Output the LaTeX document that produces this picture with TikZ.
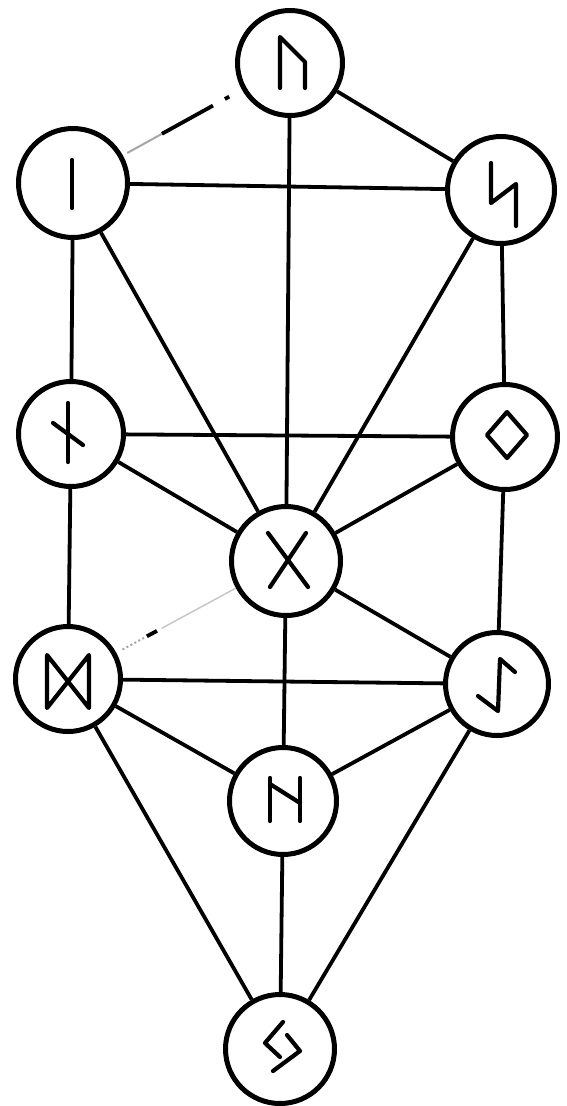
\documentclass[tikz,border=0pt]{standalone}
\usetikzlibrary{calc}
\begin{document}
\begin{tikzpicture}[x=1pt,y=-1pt,
  rune/.style={circle,draw,line width=5pt,fill=white,minimum size=#1,inner sep=0pt},
  link/.style={line width=3.8pt},
  faint/.style={line width=2pt,draw=black!35},
  glyph/.style={line width=4.2pt,line cap=round,line join=round}]
\useasboundingbox (0,0) rectangle (566,1106);
% circles
\node[rune=105pt] (t)  at (290,63)  {};
\node[rune=109pt] (lu) at (73,183)  {};
\node[rune=107pt] (ru) at (501,190) {};
\node[rune=105pt] (lm) at (71,434)  {};
\node[rune=105pt] (rm) at (505,437) {};
\node[rune=109pt] (c)  at (286,561) {};
\node[rune=105pt] (ll) at (68,679)  {};
\node[rune=103pt] (rl) at (497,684) {};
\node[rune=107pt] (bm) at (283,801) {};
\node[rune=109pt] (b)  at (280,1049) {};
% connectors
\draw[link] (t) -- (ru);
\draw[link] (t) -- (c);
\draw[link] (lu) -- (ru);
\draw[link] (lu) -- (lm);
\draw[link] (lu) -- (c);
\draw[link] (ru) -- (rm);
\draw[link] (ru) -- (c);
\draw[link] (lm) -- (rm);
\draw[link] (lm) -- (c);
\draw[link] (rm) -- (c);
\draw[link] (lm) -- (ll);
\draw[link] (rm) -- (rl);
\draw[link] (c) -- (rl);
\draw[link] (c) -- (bm);
\draw[link] (ll) -- (rl);
\draw[link] (ll) -- (bm);
\draw[link] (rl) -- (bm);
\draw[link] (ll) -- (b);
\draw[link] (rl) -- (b);
\draw[link] (bm) -- (b);
% faded connector top - left upper
\draw[faint] ($(lu)!0.25!(t)$) -- ($(lu)!0.41!(t)$);
\draw[link] ($(lu)!0.41!(t)$) -- ($(lu)!0.645!(t)$);
\draw[link] ($(lu)!0.70!(t)$) -- ($(lu)!0.72!(t)$);
% faded connector centre - left lower
\draw[faint,dash pattern=on 2pt off 2.5pt] ($(ll)!0.25!(c)$) -- ($(ll)!0.35!(c)$);
\draw[link] ($(ll)!0.362!(c)$) -- ($(ll)!0.408!(c)$);
\draw[faint,draw=black!22,line width=1.5pt] ($(ll)!0.43!(c)$) -- ($(ll)!0.77!(c)$);
% runes
\begin{scope}[shift={(t)}]
  \draw[glyph] (-10,25) -- (-10,-26) -- (15,-1) -- (15,25);
\end{scope}
\begin{scope}[shift={(lu)}]
  \draw[glyph] (-1,-23) -- (-1,25);
\end{scope}
\begin{scope}[shift={(ru)}]
  \draw[glyph] (-10,-27) -- (-10,13) -- (15,-6) -- (15,36);
\end{scope}
\begin{scope}[shift={(lm)}]
  \draw[glyph] (-3,-31) -- (-3,28);
  \draw[glyph] (-18,-11) -- (12,11);
\end{scope}
\begin{scope}[shift={(rm)}]
  \draw[glyph] (2,-25) -- (22,-2) -- (2,21) -- (-18,-2) -- cycle;
\end{scope}
\begin{scope}[shift={(c)}]
  \draw[glyph] (-18,-28) -- (22,26);
  \draw[glyph] (20,-28) -- (-16,26);
\end{scope}
\begin{scope}[shift={(ll)}]
  \draw[glyph] (-21,-24) -- (-21,29) -- (21,-24) -- (21,29) -- cycle;
\end{scope}
\begin{scope}[shift={(rl)}]
  \draw[glyph] (-19,12) -- (1,27) -- (3,-25) -- (18,-12);
\end{scope}
\begin{scope}[shift={(bm)}]
  \draw[glyph] (-13,-23) -- (-13,20);
  \draw[glyph] (17,-23) -- (17,20);
  \draw[glyph] (-13,-17) -- (17,2);
\end{scope}
\begin{scope}[shift={(b)}]
  \draw[glyph] (3,-27) -- (-15,-6) -- (0,8);
  \draw[glyph] (7,-14) -- (20,2) -- (-7,22);
\end{scope}
\end{tikzpicture}
\end{document}
